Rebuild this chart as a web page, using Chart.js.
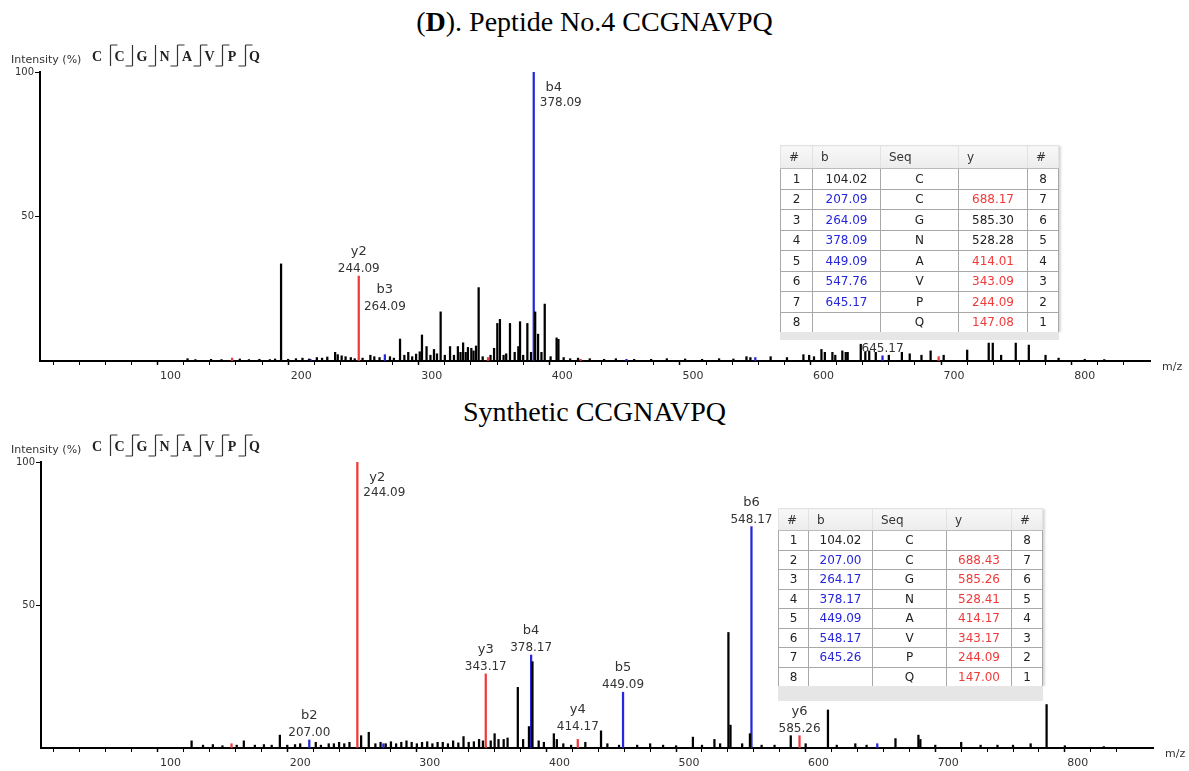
<!DOCTYPE html>
<html>
<head>
<meta charset="utf-8">
<script src="https://cdn.jsdelivr.net/npm/chart.js@4.4.0/dist/chart.umd.min.js"></script>
<style>
  body { margin: 0; width: 1189px; height: 771px; background: #fff; position: relative; overflow: hidden; font-family: "DejaVu Sans", sans-serif; }
  .title { position: absolute; left: 0; width: 1189px; text-align: center; font-family: "Liberation Serif", serif; font-size: 28px; line-height: 32px; color: #000; }
  canvas { position: absolute; left: 0; }
  table.ions { position: absolute; border-collapse: collapse; table-layout: fixed; background: #fff; font-size: 12px; color: #222; box-shadow: 3px 0 2px -1px #d8d8d8; }
  table.ions th { font-weight: normal; text-align: left; padding: 0 0 0 8px; background: linear-gradient(#f8f8f8, #ececec); border: 1px solid #e2e2e2; border-bottom: 1px solid #bbb; color: #333; }
  table.ions td { text-align: center; border: 1px solid #a8a8a8; padding: 0; }
  .band { position: absolute; background: #e6e6e6; }
</style>
</head>
<body>
<div class="title" style="top:6px">(<b>D</b>). Peptide No.4 CCGNAVPQ</div>
<div class="title" style="top:396px">Synthetic CCGNAVPQ</div>
<canvas id="topChart" width="1189" height="345" style="top:40px"></canvas>
<canvas id="synChart" width="1189" height="341" style="top:430px"></canvas>

<script>
// peptide sequence
const sequence = ['C', 'C', 'G', 'N', 'A', 'V', 'P', 'Q'];

// ---- Peptide No.4 (top) ----
// unassigned peaks [m/z, intensity %]
const topOtherPeaks = [
    [113, 0.8], [119, 0.5], [131, 0.6], [139, 0.5], [153, 0.7], [160, 0.5], [168, 0.6], [176, 0.5], [180, 0.7],
    [184.6, 33.6],
    [190, 0.6], [196, 0.8], [201, 1.0], [206, 0.7], [212, 1.2], [216, 1.0], [220, 1.4], [226, 3.0], [228, 2.2],
    [231, 1.8], [234, 1.5], [238, 1.2], [241, 0.8], [247, 1.0], [253, 2.0], [256, 1.5], [260, 1.2], [268, 1.5],
    [271, 1.0], [275.7, 7.6], [279, 2.0], [282, 3.0], [285, 1.5], [288, 2.4], [290.8, 3.2], [292.5, 9.0], [296, 5.0],
    [299, 2.0], [301.7, 4.0], [304, 2.5], [306.8, 17], [310, 2.0], [314, 5.0], [317, 2.0], [320, 5.0], [322, 3.0],
    [324, 6.3], [326, 3.0], [327.7, 4.7], [330.3, 4.4], [332, 3.5], [333.9, 5.2], [335.9, 25.4], [339, 1.5],
    [345, 2.0], [347.7, 4.4], [350.2, 13], [352.2, 14.4], [355, 2.0], [357, 2.5], [359.9, 13], [363.5, 3.0],
    [366.3, 5.0], [367.6, 13.6], [370, 2.0], [373.2, 13], [376, 3.0], [379.2, 17], [381.4, 9.3], [384, 3.0],
    [386.5, 19.7], [391, 1.5], [395.6, 8.0], [397, 7.5], [401, 1.2], [406, 0.8], [412, 1.0], [421, 0.8], [432, 0.6],
    [441, 0.8], [455, 0.6], [468, 0.6], [480, 0.8], [494, 0.7], [507, 0.6], [520, 0.8], [531, 0.7], [541, 1.5],
    [544, 1.2], [559.5, 1.5], [572, 1.2], [584.6, 2.2], [589, 2.0], [592.7, 1.5], [598.4, 4.0], [601, 3.0],
    [606.8, 3.0], [609, 2.0], [614.4, 3.5], [617, 3.0], [618.5, 3.0], [628.5, 5.8], [632, 3.0], [635, 3.5],
    [640, 3.0], [650, 2.0], [660, 3.0], [666, 2.5], [675, 2.0], [682, 3.5], [692, 2.0], [710, 3.8], [726.5, 6.2],
    [729.6, 6.2], [736, 2.0], [747.2, 6.2], [757.2, 5.5], [770, 2.0], [780, 1.0], [800, 0.6], [815, 0.5]
];
const topBPeaks = [[207.09, 0.6], [264.09, 2.2], [378.09, 100], [449.09, 0.6], [547.76, 1.2], [645.17, 1.8]];
const topYPeaks = [[147.08, 1.0], [244.09, 29.4], [343.09, 1.2], [414.01, 0.6], [688.17, 1.5]];
const topIonLabels = [['y2', 244.09], ['b3', 264.09], ['b4', 378.09], ['b7', 645.17]];
const topBIons = ['104.02', '207.09', '264.09', '378.09', '449.09', '547.76', '645.17', ''];
const topYIons = ['', '688.17', '585.30', '528.28', '414.01', '343.09', '244.09', '147.08'];
const topBMatched = [false, true, true, true, true, true, true, false];
const topYMatched = [false, true, false, false, true, true, true, true];

// ---- Synthetic (bottom) ----
const synOtherPeaks = [
    [116.2, 2.5], [125, 1.0], [132.6, 1.2], [140, 0.8], [151, 1.0], [156.5, 2.5], [165, 1.0], [172, 1.2], [178, 1.0],
    [184.3, 4.5], [190, 1.0], [196, 1.2], [200, 1.5], [212, 2.0], [216, 1.0], [222, 1.5], [226, 1.5], [230, 2.0],
    [234, 1.5], [238, 2.0], [247, 4.3], [252.9, 5.5], [258, 1.5], [262, 2.0], [266, 1.5], [270, 2.2], [274, 1.5],
    [278, 2.0], [282, 2.5], [286, 2.0], [290, 1.5], [294, 2.0], [298, 2.2], [302, 1.5], [306, 2.0], [310, 2.0],
    [314, 1.5], [318, 2.5], [322, 1.8], [326, 4.0], [330, 2.0], [334, 2.2], [338, 3.0], [341, 2.5], [347, 2.5],
    [350, 5.0], [353, 3.0], [357, 3.0], [360, 3.5], [367.9, 21.2], [372, 3.0], [376.5, 7.5], [379.2, 30.2],
    [384, 2.5], [388, 2.0], [395.7, 5.0], [398, 3.0], [403, 1.5], [409, 1.0], [420, 2.0], [432.1, 6.0], [437, 1.5],
    [446, 1.0], [460, 1.0], [470, 1.5], [480, 1.0], [490, 0.8], [503, 3.8], [510, 1.0], [519.6, 3.0], [524, 1.5],
    [530.4, 40.4], [532, 8.0], [541, 1.5], [547, 5.0], [556, 1.0], [566, 1.0], [578.5, 4.3], [590, 1.5],
    [607.2, 13.3], [614, 1.0], [628.3, 1.5], [637, 1.0], [659.3, 3.3], [677, 4.5], [678.5, 3.0], [690, 1.0],
    [710, 2.0], [725, 1.0], [738, 1.0], [750, 1.0], [763.6, 1.5], [775.9, 15.2], [790, 0.8], [820, 0.5]
];
const synBPeaks = [[207.00, 2.8], [264.17, 1.5], [378.17, 32.5], [449.09, 19.5], [548.17, 77.4], [645.26, 1.5]];
const synYPeaks = [[147.00, 1.5], [244.09, 100], [343.17, 25.9], [414.17, 3.0], [585.26, 4.3]];
const synIonLabels = [['b2', 207.00], ['y2', 244.09], ['y3', 343.17], ['b4', 378.17], ['y4', 414.17],
    ['b5', 449.09], ['b6', 548.17], ['y6', 585.26]];
const synBIons = ['104.02', '207.00', '264.17', '378.17', '449.09', '548.17', '645.26', ''];
const synYIons = ['', '688.43', '585.26', '528.41', '414.17', '343.17', '244.09', '147.00'];
const synBMatched = [false, true, true, true, true, true, true, false];
const synYMatched = [false, true, true, true, true, true, true, true];

// axis ticks
const yTickValues = [0, 50, 100];
const xLabelStep = 100;
const xMinorStep = 20;

Chart.defaults.font.family = '"DejaVu Sans", sans-serif';

const BLUE = '#2626dc';
const RED = '#f03a3a';

function toPoints(list) {
    return list.map(p => ({ x: p[0], y: p[1] }));
}

// labels, header and m/z drawn on top of the spectrum
const decorPlugin = {
    id: 'decor',
    afterDraw(chart, args, opts) {
        const { ctx, chartArea } = chart;
        const x = chart.scales.x, y = chart.scales.y;
        ctx.save();

        // Intensity (%) + sequence header
        const hy = chartArea.top - 16;
        ctx.fillStyle = '#333';
        ctx.textBaseline = 'middle';
        ctx.textAlign = 'left';
        ctx.font = '11px "DejaVu Sans"';
        ctx.fillText('Intensity (%)', 11, chartArea.top - 12);

        ctx.font = 'bold 14px "Liberation Serif"';
        ctx.textAlign = 'center';
        ctx.fillStyle = '#222';
        sequence.forEach((aa, i) => ctx.fillText(aa, 97 + i * 22.5, hy + 1));

        ctx.strokeStyle = '#333';
        ctx.lineWidth = 1.2;
        for (let k = 1; k < sequence.length; k++) {
            const hasB = opts.bMatched[k - 1];
            const hasY = opts.yMatched[k];
            if (!hasB && !hasY) continue;
            const mx = Math.round(97 + 22.5 * k - 10) + 0.5;
            ctx.beginPath();
            ctx.moveTo(mx, hy - 11);
            ctx.lineTo(mx, hy + 10);
            if (hasY) { ctx.moveTo(mx, hy - 11); ctx.lineTo(mx + 7, hy - 11); }
            if (hasB) { ctx.moveTo(mx, hy + 10); ctx.lineTo(mx - 7, hy + 10); }
            ctx.stroke();
        }

        // m/z axis label
        ctx.fillStyle = '#333';
        ctx.textAlign = 'left';
        ctx.font = '11px "DejaVu Sans"';
        ctx.fillText('m/z', chartArea.right + 12, chartArea.bottom + 6);

        // fragment ion labels
        ctx.textBaseline = 'alphabetic';
        ctx.textAlign = 'center';
        const colored = opts.bPeaks.concat(opts.yPeaks);
        opts.labels.forEach(([ion, mz]) => {
            const hit = colored.find(p => p[0] === mz);
            if (!hit) return;
            const px = x.getPixelForValue(mz);
            const py = y.getPixelForValue(hit[1]);
            ctx.fillStyle = '#333';
            if (hit[1] >= 99) {
                ctx.font = '13px "DejaVu Sans"';
                ctx.fillText(ion, px + 20, chartArea.top + 19);
                ctx.font = '12px "DejaVu Sans"';
                ctx.fillText(mz.toFixed(2), px + 27, chartArea.top + 34);
            } else {
                const base = py - 4 - (opts.lift[ion] || 0);
                ctx.font = '12px "DejaVu Sans"';
                ctx.fillText(mz.toFixed(2), px, base);
                ctx.font = '13px "DejaVu Sans"';
                ctx.fillText(ion, px, base - 17);
            }
        });
        ctx.restore();
    }
};

function makeSpectrum(id, other, bPeaks, yPeaks, labels, lift, bMatched, yMatched, box) {
    const ctx = document.getElementById(id).getContext('2d');
    const bar = { grouped: false, barThickness: 1.6, borderWidth: 0 };
    return new Chart(ctx, {
        type: 'bar',
        data: {
            datasets: [
                { ...bar, data: toPoints(other), backgroundColor: '#000' },
                { ...bar, data: toPoints(bPeaks), backgroundColor: BLUE },
                { ...bar, data: toPoints(yPeaks), backgroundColor: RED }
            ]
        },
        options: {
            responsive: false,
            animation: false,
            events: [],
            layout: { padding: { top: 32, right: box.right, left: 0, bottom: 0 } },
            plugins: {
                legend: { display: false },
                tooltip: { enabled: false },
                decor: { labels, lift, bPeaks, yPeaks, bMatched, yMatched }
            },
            scales: {
                x: {
                    type: 'linear',
                    min: 0,
                    max: box.max,
                    offset: false,
                    border: { color: '#000', width: 2 },
                    grid: {
                        drawOnChartArea: false,
                        tickLength: 4,
                        tickColor: '#000',
                        tickWidth: c => (c.tick && c.tick.value % xLabelStep === 0) ? 1.5 : 1
                    },
                    afterBuildTicks: s => {
                        s.ticks = s.ticks.filter(t => t.value % xMinorStep === 0);
                    },
                    ticks: {
                        stepSize: xMinorStep,
                        autoSkip: false,
                        maxRotation: 0,
                        padding: 5,
                        color: '#333',
                        font: { size: 11 },
                        callback: v => (v % xLabelStep === 0 && v > 0) ? v : ''
                    },
                    afterFit: s => { s.height = box.axisH; }
                },
                y: {
                    min: 0,
                    max: 100,
                    border: { color: '#000', width: 2 },
                    grid: {
                        drawOnChartArea: false,
                        tickLength: 5,
                        tickColor: c => (c.tick && c.tick.value === 0) ? 'rgba(0,0,0,0)' : '#000'
                    },
                    afterBuildTicks: s => {
                        s.ticks = yTickValues.map(v => ({ value: v }));
                    },
                    ticks: {
                        padding: 1,
                        color: '#333',
                        font: { size: 10 },
                        callback: v => v === 0 ? '' : v
                    },
                    afterFit: s => { s.width = box.left; }
                }
            }
        },
        plugins: [decorPlugin]
    });
}

function buildTable(box, bIons, yIons, bMatched, yMatched) {
    const t = document.createElement('table');
    t.className = 'ions';
    t.style.left = box.left + 'px';
    t.style.top = box.top + 'px';
    const total = box.cols.reduce((a, b) => a + b, 0);
    t.style.width = total + 'px';
    const cg = document.createElement('colgroup');
    box.cols.forEach(w => {
        const c = document.createElement('col');
        c.style.width = w + 'px';
        cg.appendChild(c);
    });
    t.appendChild(cg);

    const head = document.createElement('tr');
    head.style.height = box.headH + 'px';
    ['#', 'b', 'Seq', 'y', '#'].forEach(h => {
        const th = document.createElement('th');
        th.textContent = h;
        head.appendChild(th);
    });
    t.appendChild(head);

    sequence.forEach((aa, i) => {
        const tr = document.createElement('tr');
        tr.style.height = box.rowH + 'px';
        const cells = [
            [String(i + 1), '#222'],
            [bIons[i], bMatched[i] ? BLUE : '#222'],
            [aa, '#222'],
            [yIons[i], yMatched[i] ? RED : '#222'],
            [String(sequence.length - i), '#222']
        ];
        cells.forEach(([txt, col]) => {
            const td = document.createElement('td');
            td.textContent = txt;
            td.style.color = col;
            tr.appendChild(td);
        });
        t.appendChild(tr);
    });
    document.body.appendChild(t);

    const band = document.createElement('div');
    band.className = 'band';
    band.style.left = box.left + 'px';
    band.style.width = (total + 1) + 'px';
    band.style.top = (box.top + box.headH + box.rowH * sequence.length) + 'px';
    band.style.height = box.bandH + 'px';
    document.body.appendChild(band);
}

makeSpectrum('topChart', topOtherPeaks, topBPeaks, topYPeaks, topIonLabels, { b3: 41 },
    topBMatched, topYMatched, { left: 40, right: 39, max: 850, axisH: 24 });
makeSpectrum('synChart', synOtherPeaks, synBPeaks, synYPeaks, synIonLabels, { y4: 5 },
    synBMatched, synYMatched, { left: 41, right: 36, max: 858, axisH: 23 });

buildTable({ left: 780, top: 145, cols: [32, 68, 78, 69, 31], headH: 23, rowH: 20.5, bandH: 8 },
    topBIons, topYIons, topBMatched, topYMatched);
buildTable({ left: 778, top: 508, cols: [30, 64, 74, 65, 31], headH: 22, rowH: 19.5, bandH: 15 },
    synBIons, synYIons, synBMatched, synYMatched);
</script>
</body>
</html>
